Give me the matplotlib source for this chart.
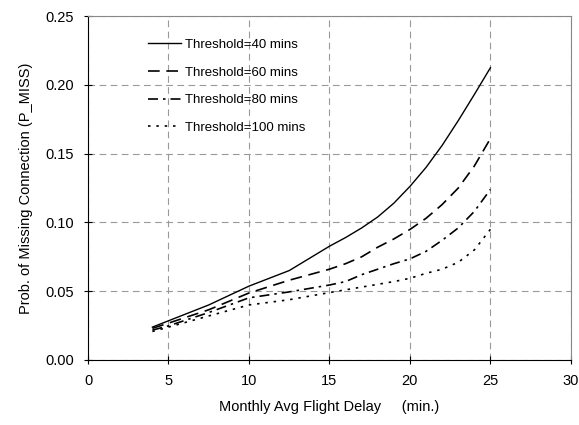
import numpy as np
import matplotlib
matplotlib.use("Agg")
import matplotlib.pyplot as plt

plt.rcParams['font.family'] = ['Liberation Sans', 'DejaVu Sans']

#monthly avg delay [min]
delay = [4, 5, 7.5, 10, 12.5, 15, 16, 17, 18, 19, 20, 21, 22, 23, 24, 25]

#prob. of missing connection for each threshold
p_40 = [0.0239, 0.0285, 0.040, 0.0537, 0.0650, 0.0827, 0.089, 0.096, 0.104, 0.114,
        0.1262, 0.140, 0.156, 0.174, 0.193, 0.2125]
p_60 = [0.0230, 0.0268, 0.0365, 0.0487, 0.0580, 0.0660, 0.070, 0.075, 0.082, 0.088,
        0.0949, 0.103, 0.113, 0.125, 0.141, 0.1610]
p_80 = [0.0217, 0.0248, 0.0345, 0.0452, 0.0495, 0.0545, 0.057, 0.062, 0.066, 0.070,
        0.0735, 0.079, 0.087, 0.096, 0.108, 0.1240]
p_100 = [0.0207, 0.0239, 0.0320, 0.0400, 0.0438, 0.0490, 0.051, 0.053, 0.055, 0.057,
         0.0594, 0.063, 0.066, 0.071, 0.080, 0.0950]

labels = ["Threshold=40 mins", "Threshold=60 mins", "Threshold=80 mins", "Threshold=100 mins"]

fig = plt.figure(figsize=(5.79, 4.25), dpi=100)
ax = fig.add_axes([0.152, 0.153, 0.834, 0.809])

ax.plot(delay, p_40, color="black", lw=1.0, ls="-", label=labels[0])
ax.plot(delay, p_60, color="black", lw=1.2, dashes=(7, 4), label=labels[1])
ax.plot(delay, p_80, color="black", lw=1.2, dashes=(6, 3, 1.5, 3), label=labels[2])
ax.plot(delay, p_100, color="black", lw=1.2, dashes=(1.5, 3.5), label=labels[3])

ax.set_xlim(0, 30)
ax.set_ylim(0, 0.25)
ax.set_xticks(np.arange(0, 31, 5))
ax.set_yticks(np.arange(0, 0.26, 0.05))
ax.yaxis.set_major_formatter(matplotlib.ticker.FormatStrFormatter("%.2f"))
ax.grid(True, color="#999999", ls=(0, (6, 4)), lw=0.8)
ax.set_axisbelow(True)

ax.spines['top'].set_color("#888888")
ax.spines['right'].set_color("#888888")
ax.spines['left'].set_color("black")
ax.spines['bottom'].set_color("black")
ax.tick_params(direction="inout", length=6, labelsize=10.5, pad=7)

ax.set_xlabel("Monthly Avg Flight Delay     (min.)", fontsize=10.5, labelpad=9)
ax.set_ylabel("Prob. of Missing Connection (P_MISS)", fontsize=10.5, labelpad=9)

ax.legend(loc="upper left", bbox_to_anchor=(0.1, 0.969), frameon=False, fontsize=9.5,
          handlelength=2.5, handletextpad=0.3, labelspacing=1.17)

fig.savefig("out.png", dpi=100)
